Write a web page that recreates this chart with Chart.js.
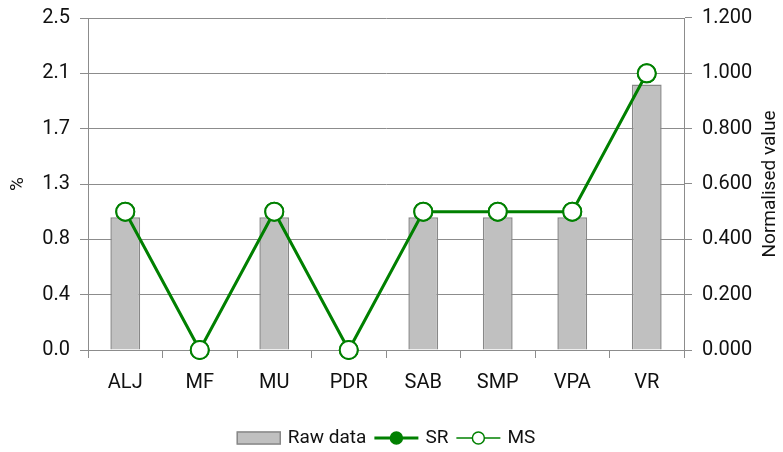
<!DOCTYPE html>
<html>
<head>
<meta charset="utf-8">
<script src="https://cdn.jsdelivr.net/npm/chart.js@4/dist/chart.umd.min.js"></script>
<style>
  html, body { margin: 0; padding: 0; background: #fff; }
  #wrap { width: 783px; height: 452px; }
</style>
</head>
<body>
<div id="wrap"><canvas id="grafico"></canvas></div>
<script>
// Datos
const categorias = ['ALJ', 'MF', 'MU', 'PDR', 'SAB', 'SMP', 'VPA', 'VR']
const rawData = [1.0, 0, 1.0, 0, 1.0, 1.0, 1.0, 2.0]
const srValues = [0.5, 0, 0.5, 0, 0.5, 0.5, 0.5, 1.0]
const msValues = [0.5, 0, 0.5, 0, 0.5, 0.5, 0.5, 1.0]
const ticksPct = ['0.0', '0.4', '0.8', '1.3', '1.7', '2.1', '2.5']
const ticksNorm = ['0.000', '0.200', '0.400', '0.600', '0.800', '1.000', '1.200']

const VERDE = '#008000'
const GRIS = '#8c8c8c'
const FUENTE = 'Roboto'

Chart.defaults.font.family = FUENTE
Chart.defaults.color = '#111111'

// Titulos de ejes, los dos leidos de abajo hacia arriba
const titulosEjes = {
    id: 'titulosEjes',
    afterDraw(chart) {
        const ctx = chart.ctx
        const area = chart.chartArea
        const midY = (area.top + area.bottom) / 2
        ctx.save()
        ctx.font = '19px ' + FUENTE
        ctx.fillStyle = '#111111'
        ctx.textAlign = 'center'
        ctx.textBaseline = 'middle'
        ;[['%', 18], ['Normalised value', 770]].forEach(([txt, x]) => {
            ctx.save()
            ctx.translate(x, midY)
            ctx.rotate(-Math.PI / 2)
            ctx.fillText(txt, 0, 0)
            ctx.restore()
        })
        ctx.restore()
    }
}

// Leyenda abajo, simbolos dibujados a mano
const leyenda = {
    id: 'leyenda',
    afterDraw(chart) {
        const ctx = chart.ctx
        const area = chart.chartArea
        const y = 438
        ctx.save()
        ctx.font = '19px ' + FUENTE
        ctx.textBaseline = 'middle'
        const items = chart.data.datasets.map(ds => ({ ds, w: ctx.measureText(ds.label).width }))
        const simbolo = 44, gapTxt = 7, gapItem = 8
        let total = 0
        items.forEach((it, i) => { total += simbolo + gapTxt + it.w + (i < items.length - 1 ? gapItem : 0) })
        let x = (area.left + area.right) / 2 - total / 2
        items.forEach(it => {
            const ds = it.ds
            if (ds.type === 'line') {
                ctx.strokeStyle = VERDE
                ctx.lineWidth = ds.legendLine
                ctx.beginPath()
                ctx.moveTo(x, y)
                ctx.lineTo(x + simbolo, y)
                ctx.stroke()
                ctx.beginPath()
                ctx.arc(x + simbolo / 2, y, 6, 0, Math.PI * 2)
                ctx.fillStyle = ds.pointBackgroundColor
                ctx.fill()
                ctx.lineWidth = 1.5
                ctx.stroke()
            } else {
                ctx.fillStyle = ds.backgroundColor
                ctx.fillRect(x, y - 6.5, simbolo, 13)
                ctx.strokeStyle = ds.borderColor
                ctx.lineWidth = 1.5
                ctx.strokeRect(x + 0.5, y - 6, simbolo - 1, 12)
            }
            x += simbolo + gapTxt
            ctx.fillStyle = '#111111'
            ctx.textAlign = 'left'
            ctx.fillText(ds.label, x, y)
            x += it.w + gapItem
        })
        ctx.restore()
    }
}

// Anchos fijos de los ejes verticales, sin relleno extra arriba/abajo
function fijarEje(ancho) {
    return s => {
        s.width = ancho
        s.paddingTop = 0
        s.paddingBottom = 0
    }
}

const config = {
    type: 'bar',
    data: {
        labels: categorias,
        datasets: [
            {
                type: 'bar',
                label: 'Raw data',
                data: rawData,
                yAxisID: 'y',
                backgroundColor: '#c0c0c0',
                borderColor: '#888888',
                borderWidth: 1.5,
                barPercentage: 0.4,
                categoryPercentage: 1.0,
                order: 2
            },
            {
                type: 'line',
                label: 'SR',
                data: srValues,
                yAxisID: 'y1',
                borderColor: VERDE,
                borderWidth: 3,
                pointRadius: 9,
                pointBorderWidth: 2,
                pointBackgroundColor: VERDE,
                pointBorderColor: VERDE,
                legendLine: 3,
                clip: false,
                order: 1
            },
            {
                type: 'line',
                label: 'MS',
                data: msValues,
                yAxisID: 'y1',
                borderColor: VERDE,
                borderWidth: 1.5,
                pointRadius: 9,
                pointBorderWidth: 2,
                pointBackgroundColor: '#ffffff',
                pointBorderColor: VERDE,
                legendLine: 1.5,
                clip: false,
                order: 0
            }
        ]
    },
    options: {
        responsive: true,
        maintainAspectRatio: false,
        animation: false,
        layout: { padding: { top: 18, bottom: 42, left: 0, right: 0 } },
        plugins: {
            legend: { display: false },
            tooltip: { enabled: false }
        },
        scales: {
            x: {
                offset: true,
                grid: { offset: true, drawOnChartArea: false, drawTicks: true, tickLength: 8, color: GRIS },
                border: { color: GRIS, width: 1 },
                ticks: { font: { size: 20 }, padding: 13, maxRotation: 0 },
                afterFit: s => { s.height = 60; s.paddingLeft = 0; s.paddingRight = 0 }
            },
            y: {
                position: 'left',
                min: 0,
                max: 2.5,
                afterBuildTicks: s => { s.ticks = ticksPct.map((t, i) => ({ value: i * 2.5 / 6 })) },
                ticks: { font: { size: 20 }, padding: 10, callback: (v, i) => ticksPct[i] },
                grid: { color: GRIS, lineWidth: 1, tickLength: 8 },
                border: { color: GRIS, width: 1 },
                afterFit: fijarEje(88)
            },
            y1: {
                position: 'right',
                min: 0,
                max: 1.2,
                afterBuildTicks: s => { s.ticks = ticksNorm.map((t, i) => ({ value: i * 0.2 })) },
                ticks: { font: { size: 20 }, padding: 10, callback: (v, i) => ticksNorm[i] },
                grid: { drawOnChartArea: false, color: GRIS, tickLength: 8 },
                border: { color: GRIS, width: 1 },
                afterFit: fijarEje(99)
            }
        }
    },
    plugins: [titulosEjes, leyenda]
}

new Chart(document.getElementById('grafico'), config)
</script>
</body>
</html>
